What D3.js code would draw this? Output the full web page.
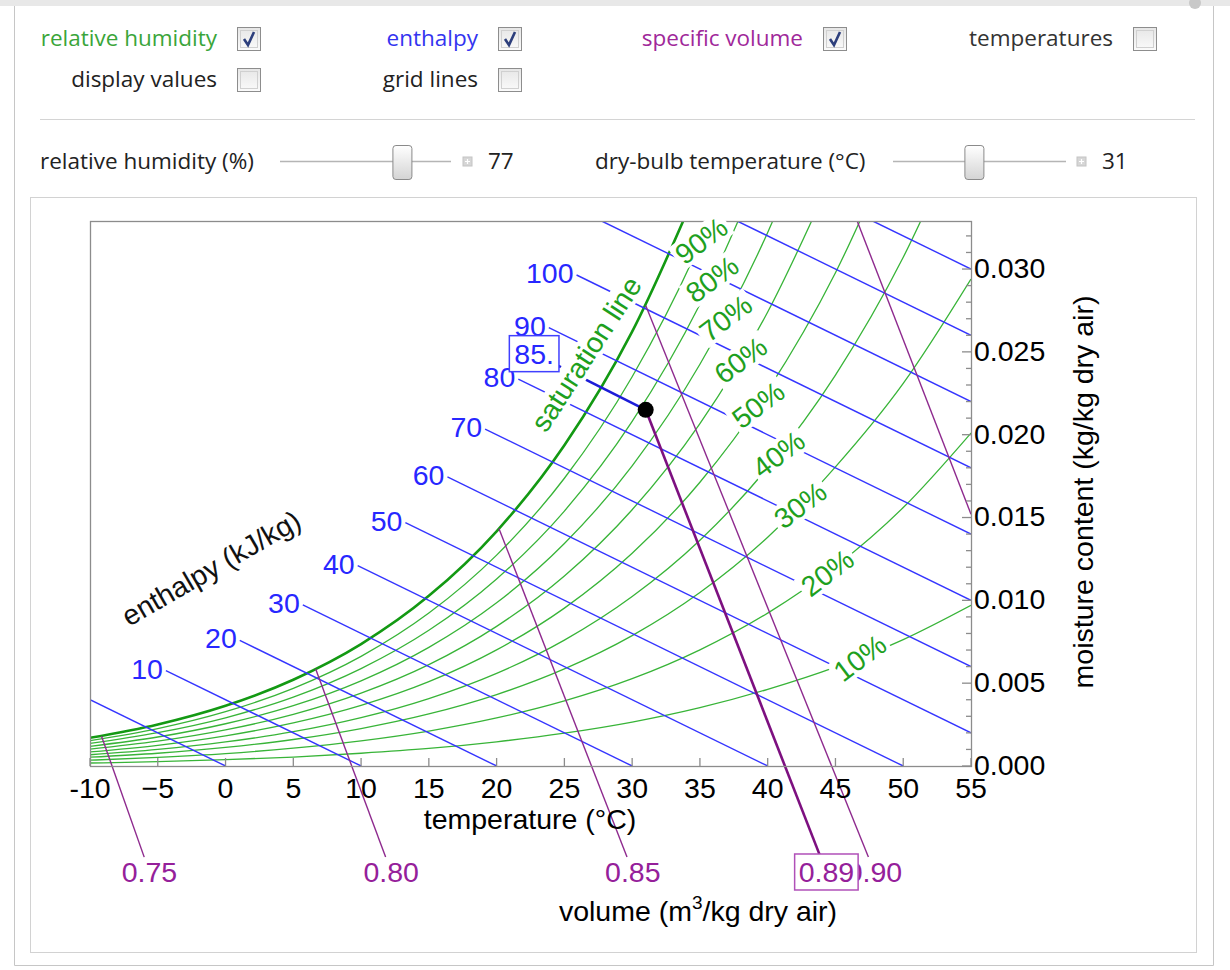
<!DOCTYPE html>
<html>
<head>
<meta charset="utf-8">
<title>Psychrometric chart</title>
<script src="https://cdn.jsdelivr.net/npm/d3@7"></script>
<style>
  body { margin: 0; background: #fff; }
  .chart text { font-family: "Liberation Sans", Arial, sans-serif; font-size: 28.5px; }
  .ui text { font-family: "Open Sans", "Noto Sans", sans-serif; font-size: 22.5px; fill: #222; }
</style>
</head>
<body>
<svg id="psy" width="1230" height="970"></svg>
<script>
// ---- values ----

// dry-bulb temperature nodes (°C) used for the relative humidity curves
const rhTemps = [-10, -5, 0, 5, 10, 15, 20, 25, 30, 35, 40, 45, 50, 55];
const rhLevels = [100, 90, 80, 70, 60, 50, 40, 30, 20, 10];

// moisture content (kg/kg dry air) along each curve
const rh100 = [0.00170, 0.00251, 0.00364, 0.00521, 0.00736, 0.01027, 0.01417, 0.01936, 0.02622, 0.03524];
const rh90 = [0.00153, 0.00226, 0.00328, 0.00469, 0.00662, 0.00923, 0.01273, 0.01737, 0.02350, 0.03153, 0.04203];
const rh80 = [0.00136, 0.00201, 0.00291, 0.00416, 0.00588, 0.00819, 0.01129, 0.01539, 0.02080, 0.02787, 0.03709];
const rh70 = [0.00119, 0.00175, 0.00255, 0.00364, 0.00514, 0.00716, 0.00985, 0.01343, 0.01812, 0.02425, 0.03221, 0.04251];
const rh60 = [0.00102, 0.00150, 0.00218, 0.00312, 0.00440, 0.00612, 0.00843, 0.01147, 0.01547, 0.02067, 0.02741, 0.03608];
const rh50 = [0.00085, 0.00125, 0.00182, 0.00260, 0.00366, 0.00509, 0.00701, 0.00953, 0.01284, 0.01713, 0.02267, 0.02978, 0.03887];
const rh40 = [0.00068, 0.00100, 0.00145, 0.00207, 0.00292, 0.00407, 0.00559, 0.00760, 0.01023, 0.01363, 0.01801, 0.02360, 0.03071, 0.03974];
const rh30 = [0.00053, 0.00077, 0.00112, 0.00160, 0.00226, 0.00314, 0.00431, 0.00586, 0.00787, 0.01047, 0.01381, 0.01806, 0.02310, 0.02940];
const rh20 = [0.00035, 0.00052, 0.00075, 0.00108, 0.00152, 0.00211, 0.00290, 0.00393, 0.00527, 0.00701, 0.00923, 0.01204, 0.01560, 0.02010];
const rh10 = [0.00018, 0.00026, 0.00038, 0.00054, 0.00077, 0.00106, 0.00146, 0.00198, 0.00265, 0.00352, 0.00463, 0.00597, 0.00763, 0.00970];
const rhCurves = [rh100, rh90, rh80, rh70, rh60, rh50, rh40, rh30, rh20, rh10];

// temperature at which each "%" label sits on its curve
const rhLabelTemps = [null, 35.1, 35.9, 36.9, 38.0, 39.3, 40.8, 42.4, 44.4, 46.8];

// enthalpy lines (kJ/kg): start and end points as [temperature, moisture]
const enthalpyValues = [0, 10, 20, 30, 40, 50, 60, 70, 80, 90, 100, 110, 120, 130];
const enthalpyStart = [
  [-10, 0.0040], [-4.4, 0.00576], [1.05, 0.00758], [5.7, 0.00972], [9.75, 0.0121],
  [13.27, 0.01469], [16.37, 0.01745], [19.15, 0.02034], [21.6, 0.02336], [23.85, 0.02646],
  [25.9, 0.02964], [27.75, 0.0329], [37.75, 0.0329], [47.75, 0.0329]
];
const enthalpyEnd = [
  [0, 0], [10, 0], [20, 0], [30, 0], [40, 0], [50, 0], [55, 0.0020], [55, 0.0060],
  [55, 0.0100], [55, 0.0140], [55, 0.0180], [55, 0.0220], [55, 0.0260], [55, 0.0300]
];
const enthalpyLabelled = [false, true, true, true, true, true, true, true, true, true, true, false, false, false];

// specific volume lines (m3/kg dry air)
const volumeValues = ["0.75", "0.80", "0.85", "0.90", "0.95"];
const volumeStart = [[-9.15, 0.0018], [6.65, 0.00585], [20.17, 0.01434], [31.0, 0.0278], [46.6, 0.0329]];
const volumeEnd = [[-6.0, -0.0055], [11.81, -0.0055], [29.62, -0.0055], [47.43, -0.0055], [55, 0.0152]];

// the selected state
const stateTemp = 31;
const stateRH = 77;
const stateMoisture = 0.0215;
const stateEnthalpy = "85.";
const stateVolume = "0.89";
const stateEnthalpyStart = [22.77, 0.02489];
const stateVolumeEnd = [43.9, -0.0055];

// axes
const xTicks = [-10, -5, 0, 5, 10, 15, 20, 25, 30, 35, 40, 45, 50, 55];
const xTickLabels = ["-10", "\u22125", "0", "5", "10", "15", "20", "25", "30", "35", "40", "45", "50", "55"];
const yTicks = [0, 0.005, 0.010, 0.015, 0.020, 0.025, 0.030];
const yTickLabels = ["0.000", "0.005", "0.010", "0.015", "0.020", "0.025", "0.030"];

// controls
const checkLabels = ["relative humidity", "enthalpy", "specific volume", "temperatures", "display values", "grid lines"];
const checkStates = [true, true, true, false, false, false];
const sliderLabels = ["relative humidity (%)", "dry-bulb temperature (\u00b0C)"];
const sliderValues = [stateRH, stateTemp];
const sliderMin = [10, 10];
const sliderMax = [100, 55];

// ---- drawing ----
const svg = d3.select("#psy");
const defs = svg.append("defs");

const thumbGrad = defs.append("linearGradient").attr("id", "thumbGrad")
    .attr("x1", 0).attr("y1", 0).attr("x2", 0).attr("y2", 1);
thumbGrad.append("stop").attr("offset", "0%").attr("stop-color", "#ffffff");
thumbGrad.append("stop").attr("offset", "100%").attr("stop-color", "#d4d4d4");

const boxGrad = defs.append("linearGradient").attr("id", "boxGrad")
    .attr("x1", 0).attr("y1", 0).attr("x2", 0).attr("y2", 1);
boxGrad.append("stop").attr("offset", "0%").attr("stop-color", "#e6e6e6");
boxGrad.append("stop").attr("offset", "100%").attr("stop-color", "#fbfbfb");

// window chrome
svg.append("rect").attr("x", 0).attr("y", 0).attr("width", 1230).attr("height", 6).attr("fill", "#e8e8e8");
svg.append("circle").attr("cx", 1195).attr("cy", 3).attr("r", 6).attr("fill", "#c8c8c8");
svg.append("path")
    .attr("d", "M14.5,6 V965.5 H1213.5 V6")
    .attr("fill", "none").attr("stroke", "#c6c6c6");

// controls
const ui = svg.append("g").attr("class", "ui");
const checkPos = [[237, 27], [498, 27], [823, 27], [1133, 27], [237, 68], [498, 68]];
const checkColors = ["#3aa53a", "#3434f0", "#a0289a", "#333", "#222", "#222"];

checkLabels.forEach((label, i) => {
    const [cx, cy] = checkPos[i];
    ui.append("text")
        .attr("x", cx - 20).attr("y", cy + 19)
        .attr("text-anchor", "end")
        .style("fill", checkColors[i])
        .text(label);
    ui.append("rect")
        .attr("x", cx + 0.5).attr("y", cy + 0.5)
        .attr("width", 23).attr("height", 23)
        .attr("fill", "url(#boxGrad)")
        .attr("stroke", "#8d8d8d");
    ui.append("rect")
        .attr("x", cx + 3.5).attr("y", cy + 3.5)
        .attr("width", 17).attr("height", 17)
        .attr("fill", "none")
        .attr("stroke", "#d0d0d0");
    if (checkStates[i]) {
        ui.append("path")
            .attr("d", `M${cx + 7},${cy + 12} L${cx + 11},${cy + 18} L${cx + 17},${cy + 5}`)
            .attr("fill", "none")
            .attr("stroke", "#2d3f7c")
            .attr("stroke-width", 2.6);
    }
});

ui.append("line")
    .attr("x1", 40).attr("x2", 1195).attr("y1", 119.5).attr("y2", 119.5)
    .attr("stroke", "#d4d4d4");

const sliderPos = [{label: 40, track: [280, 451], plus: 463, value: 488},
                   {label: 595, track: [893, 1066], plus: 1077, value: 1102}];
sliderLabels.forEach((label, i) => {
    const p = sliderPos[i];
    ui.append("text").attr("x", p.label).attr("y", 169).text(label);
    ui.append("line")
        .attr("x1", p.track[0]).attr("x2", p.track[1]).attr("y1", 161.5).attr("y2", 161.5)
        .attr("stroke", "#b5b5b5").attr("stroke-width", 1.5);
    const pos = d3.scaleLinear().domain([sliderMin[i], sliderMax[i]])
        .range([p.track[0] + 10, p.track[1] - 10]);
    ui.append("rect")
        .attr("x", pos(sliderValues[i]) - 9.5).attr("y", 145.5)
        .attr("width", 19).attr("height", 34).attr("rx", 3)
        .attr("fill", "url(#thumbGrad)")
        .attr("stroke", "#8a8a8a");
    ui.append("rect")
        .attr("x", p.plus).attr("y", 157).attr("width", 9).attr("height", 9)
        .attr("fill", "#d6d6d6").attr("stroke", "#c4c4c4");
    ui.append("path")
        .attr("d", `M${p.plus + 2},${161.5} H${p.plus + 7} M${p.plus + 4.5},${159} V${164}`)
        .attr("stroke", "#fff").attr("stroke-width", 1.2);
    ui.append("text").attr("x", p.value).attr("y", 169).text(sliderValues[i]);
});

// plot panel
svg.append("rect")
    .attr("x", 30.5).attr("y", 197.5).attr("width", 1166).attr("height", 755)
    .attr("fill", "#fff").attr("stroke", "#d2d2d2");

// chart
const plot = {left: 90, right: 971, top: 221, bottom: 766};
const x = d3.scaleLinear().domain([-10, 55]).range([plot.left, plot.right]);
const y = d3.scaleLinear().domain([0, 0.0329]).range([plot.bottom, plot.top]);

defs.append("clipPath").attr("id", "plotClip").append("rect")
    .attr("x", plot.left).attr("y", plot.top)
    .attr("width", plot.right - plot.left).attr("height", plot.bottom - plot.top);
defs.append("clipPath").attr("id", "volClip").append("rect")
    .attr("x", plot.left).attr("y", plot.top)
    .attr("width", plot.right - plot.left).attr("height", 700);

const chart = svg.append("g").attr("class", "chart");

const curve = d3.line()
    .x(d => x(d[0]))
    .y(d => y(d[1]))
    .curve(d3.curveMonotoneX);

// relative humidity curves (saturation line on top)
const rhGroup = chart.append("g").attr("clip-path", "url(#plotClip)");
const rhPaths = [];
for (let i = rhCurves.length - 1; i >= 0; i--) {
    rhPaths[i] = rhGroup.append("path")
        .datum(rhCurves[i].map((w, j) => [rhTemps[j], w]))
        .attr("d", curve)
        .attr("fill", "none")
        .attr("stroke", i === 0 ? "#139913" : "#38b438")
        .attr("stroke-width", i === 0 ? 2.6 : 1.3);
}

// enthalpy lines
const hGroup = chart.append("g").attr("clip-path", "url(#plotClip)");
enthalpyValues.forEach((h, i) => {
    hGroup.append("line")
        .attr("x1", x(enthalpyStart[i][0])).attr("y1", y(enthalpyStart[i][1]))
        .attr("x2", x(enthalpyEnd[i][0])).attr("y2", y(enthalpyEnd[i][1]))
        .attr("stroke", "#3535ff").attr("stroke-width", 1.4);
});

// specific volume lines
const vGroup = chart.append("g").attr("clip-path", "url(#volClip)");
volumeValues.forEach((v, i) => {
    vGroup.append("line")
        .attr("x1", x(volumeStart[i][0])).attr("y1", y(volumeStart[i][1]))
        .attr("x2", x(volumeEnd[i][0])).attr("y2", y(volumeEnd[i][1]))
        .attr("stroke", "#8e2a8e").attr("stroke-width", 1.4);
});

// state lines
chart.append("line")
    .attr("x1", x(stateTemp)).attr("y1", y(stateMoisture))
    .attr("x2", x(stateVolumeEnd[0])).attr("y2", y(stateVolumeEnd[1]))
    .attr("stroke", "#7d1080").attr("stroke-width", 2.6);
chart.append("line")
    .attr("x1", x(stateEnthalpyStart[0])).attr("y1", y(stateEnthalpyStart[1]))
    .attr("x2", x(stateTemp)).attr("y2", y(stateMoisture))
    .attr("stroke", "#1c1cd8").attr("stroke-width", 2.6);

// frame and ticks
chart.append("rect")
    .attr("x", plot.left + 0.5).attr("y", plot.top + 0.5)
    .attr("width", plot.right - plot.left).attr("height", plot.bottom - plot.top)
    .attr("fill", "none").attr("stroke", "#8c8c8c").attr("stroke-width", 1.3);

chart.selectAll(".xtick").data(xTicks).enter().append("line")
    .attr("x1", d => x(d)).attr("x2", d => x(d))
    .attr("y1", plot.bottom).attr("y2", plot.bottom - 8)
    .attr("stroke", "#8c8c8c").attr("stroke-width", 1.3);
chart.selectAll(".xlabel").data(xTicks).enter().append("text")
    .attr("x", d => x(d)).attr("y", 798)
    .attr("text-anchor", "middle")
    .text((d, i) => xTickLabels[i]);

const yMinor = d3.range(0, 0.0325, 0.001);
chart.selectAll(".ytick").data(yMinor).enter().append("line")
    .attr("x1", plot.right).attr("x2", (d, i) => plot.right - (i % 5 === 0 ? 9 : 5))
    .attr("y1", d => y(d)).attr("y2", d => y(d))
    .attr("stroke", "#8c8c8c").attr("stroke-width", 1.3);
chart.selectAll(".ylabel").data(yTicks).enter().append("text")
    .attr("x", plot.right + 3).attr("y", d => y(d) - 1)
    .attr("dy", "0.35em")
    .text((d, i) => yTickLabels[i]);

// axis titles
chart.append("text")
    .attr("x", 530).attr("y", 829)
    .attr("text-anchor", "middle")
    .text("temperature (\u00b0C)");
const volTitle = chart.append("text")
    .attr("x", 698).attr("y", 921)
    .attr("text-anchor", "middle");
volTitle.append("tspan").text("volume (m");
volTitle.append("tspan").attr("dy", -12).style("font-size", "19px").text("3");
volTitle.append("tspan").attr("dy", 12).text("/kg dry air)");
chart.append("text")
    .attr("transform", "translate(1083,492) rotate(-90)")
    .attr("text-anchor", "middle")
    .attr("dy", "0.35em")
    .text("moisture content (kg/kg dry air)");

// enthalpy labels
enthalpyValues.forEach((h, i) => {
    if (!enthalpyLabelled[i]) return;
    chart.append("text")
        .attr("x", x(enthalpyStart[i][0]) - 3)
        .attr("y", y(enthalpyStart[i][1]) - 2)
        .attr("dy", "0.35em")
        .attr("text-anchor", "end")
        .attr("fill", "#2727ff")
        .text(h);
});

// volume labels, on the line continued below the axis
function volumeLabelPoint(s, e) {
    const slope = (e[0] - s[0]) / (e[1] - s[1]);
    return [e[0] + slope * (-0.0064 - e[1]), -0.0064];
}
volumeValues.forEach((v, i) => {
    if (volumeEnd[i][1] >= 0) return;
    const p = volumeLabelPoint(volumeStart[i], volumeEnd[i]);
    chart.append("text")
        .attr("x", x(p[0])).attr("y", y(p[1]))
        .attr("dy", "0.35em")
        .attr("text-anchor", "middle")
        .attr("fill", "#95209a")
        .text(v);
});

// labels with a white background
function boxedLabel(px, py, angle, txt, color, pad, border) {
    const g = chart.append("g").attr("transform", `translate(${px},${py}) rotate(${angle})`);
    const r = g.append("rect");
    const t = g.append("text")
        .attr("text-anchor", "middle")
        .attr("dy", "0.35em")
        .attr("fill", color)
        .text(txt);
    const b = t.node().getBBox();
    r.attr("x", b.x - pad[0]).attr("y", b.y + 2 - pad[1])
        .attr("width", b.width + 2 * pad[0]).attr("height", b.height - 4 + 2 * pad[1])
        .attr("fill", "#fff");
    if (border) r.attr("stroke", border).attr("stroke-width", 1.5);
    return g;
}

// point on a drawn curve at a given screen x
function pointAtX(node, px) {
    const len = node.getTotalLength();
    let lo = 0, hi = len;
    for (let k = 0; k < 40; k++) {
        const mid = (lo + hi) / 2;
        if (node.getPointAtLength(mid).x < px) lo = mid; else hi = mid;
    }
    return node.getPointAtLength(lo);
}

rhLevels.forEach((lvl, i) => {
    if (rhLabelTemps[i] === null) return;
    const p = pointAtX(rhPaths[i].node(), x(rhLabelTemps[i]));
    boxedLabel(p.x, p.y, -37, lvl + "%", "#1ea01e", [3, 0]);
});

boxedLabel(x(26.6), y(0.02487), -57, "saturation line", "#1ea01e", [1, 0]);

chart.append("text")
    .attr("transform", `translate(${x(-1.07)},${y(0.01195)}) rotate(-30)`)
    .attr("text-anchor", "middle")
    .attr("dy", "0.35em")
    .attr("fill", "#111")
    .text("enthalpy (kJ/kg)");

// state value boxes and point
boxedLabel(x(stateEnthalpyStart[0]), y(stateEnthalpyStart[1]), 0, stateEnthalpy, "#2727ff", [5, 4], "#4040ff");
const vp = volumeLabelPoint([stateTemp, stateMoisture], stateVolumeEnd);
boxedLabel(x(vp[0]), y(vp[1]), 0, stateVolume, "#95209a", [4, 4], "#b050b8");

chart.append("circle")
    .attr("cx", x(stateTemp)).attr("cy", y(stateMoisture))
    .attr("r", 8)
    .attr("fill", "#000");
</script>
</body>
</html>
